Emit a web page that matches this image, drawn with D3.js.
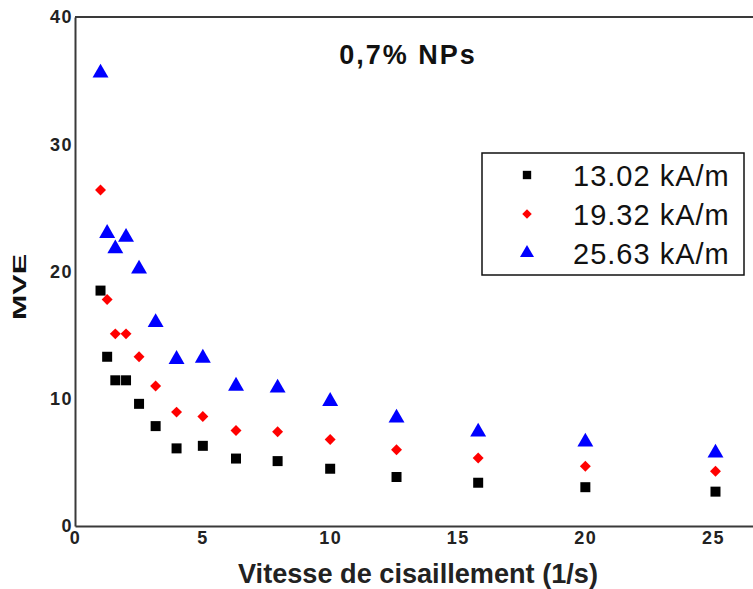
<!DOCTYPE html>
<html>
<head>
<meta charset="utf-8">
<script src="https://cdn.jsdelivr.net/npm/d3@7"></script>
<style>
  body { margin: 0; background: #fff; }
  svg { display: block; font-family: "Liberation Sans", Arial, sans-serif; }
</style>
</head>
<body>
<div id="chart"></div>
<script>
// vitesse de cisaillement (1/s)
const shearRate = [1, 1.26, 1.58, 2, 2.51, 3.16, 3.98, 5.01, 6.31, 7.94, 10, 12.6, 15.8, 20, 25.1]
// MVE pour chaque champ magnétique
const mve13 = [18.5, 13.3, 11.45, 11.45, 9.6, 7.85, 6.1, 6.3, 5.3, 5.1, 4.5, 3.85, 3.4, 3.05, 2.7]
const mve19 = [26.4, 17.8, 15.1, 15.1, 13.3, 11.0, 8.95, 8.6, 7.5, 7.4, 6.8, 6.0, 5.35, 4.7, 4.3]
const mve25 = [35.6, 23.0, 21.8, 22.7, 20.2, 16.0, 13.1, 13.2, 11.0, 10.85, 9.8, 8.5, 7.4, 6.6, 5.75]

const seriesNames = ['13.02 kA/m', '19.32 kA/m', '25.63 kA/m']
const xTicks = [0, 5, 10, 15, 20, 25]
const yTicks = [0, 10, 20, 30, 40]

const width = 753
const height = 589

const svg = d3.select('#chart').append('svg')
  .attr('width', width)
  .attr('height', height)

const x = d3.scaleLinear().domain([0, 26.57]).range([75, 753])
const y = d3.scaleLinear().domain([0, 40]).range([526, 17])

// cadre : ligne du haut
svg.append('line')
  .attr('x1', x(0)).attr('x2', width)
  .attr('y1', y(40)).attr('y2', y(40))
  .attr('stroke', '#3a3a3a').attr('stroke-width', 2)

// axe X
const gx = svg.append('g')
  .attr('transform', `translate(0,${y(0)})`)
  .call(d3.axisBottom(x).tickValues(xTicks).tickSize(0).tickPadding(5).tickFormat(d3.format('d')))
gx.select('.domain').attr('stroke', '#3a3a3a').attr('stroke-width', 2)
gx.selectAll('text')
  .attr('fill', '#222')
  .style('font-size', '18px')
  .style('font-weight', 'bold')
  .style('letter-spacing', '1.5px')

// axe Y
const gy = svg.append('g')
  .attr('transform', `translate(${x(0)},0)`)
  .call(d3.axisLeft(y).tickValues(yTicks).tickSize(0).tickPadding(2).tickFormat(d3.format('d')))
gy.select('.domain').attr('stroke', '#3a3a3a').attr('stroke-width', 2)
gy.selectAll('text')
  .attr('fill', '#222')
  .style('font-size', '18px')
  .style('font-weight', 'bold')
  .style('letter-spacing', '1.5px')

// symboles
const square = d3.symbol().type(d3.symbolSquare).size(100)
const diamond = d3.symbol().type(d3.symbolSquare).size(60)
const triangle = d3.symbol().type(d3.symbolTriangle).size(110)

const series = [
  { name: seriesNames[0], values: mve13, path: square(), rot: 0, color: '#000000' },
  { name: seriesNames[1], values: mve19, path: diamond(), rot: 45, color: '#ff0000' },
  { name: seriesNames[2], values: mve25, path: triangle(), rot: 0, color: '#0000ff' }
]

series.forEach(s => {
  svg.append('g').selectAll('path')
    .data(shearRate.map((r, i) => [r, s.values[i]]))
    .join('path')
    .attr('d', s.path)
    .attr('fill', s.color)
    .attr('transform', d => `translate(${x(d[0])},${y(d[1])}) rotate(${s.rot})`)
})

// titre
svg.append('text')
  .attr('x', 408).attr('y', 64)
  .attr('text-anchor', 'middle')
  .style('font-size', '27px')
  .style('font-weight', 'bold')
  .style('letter-spacing', '2px')
  .attr('fill', '#111')
  .text('0,7% NPs')

// titres des axes
svg.append('text')
  .attr('x', 238).attr('y', 583)
  .attr('textLength', 360)
  .attr('lengthAdjust', 'spacingAndGlyphs')
  .style('font-size', '27px')
  .style('font-weight', 'bold')
  .attr('fill', '#222')
  .text('Vitesse de cisaillement (1/s)')

svg.append('text')
  .attr('transform', 'translate(26,320) rotate(-90)')
  .attr('textLength', 66)
  .attr('lengthAdjust', 'spacingAndGlyphs')
  .style('font-size', '19px')
  .style('font-weight', 'bold')
  .attr('fill', '#111')
  .text('MVE')

// légende
const legend = svg.append('g').attr('transform', 'translate(482,153)')
legend.append('rect')
  .attr('width', 262).attr('height', 122)
  .attr('fill', '#fff')
  .attr('stroke', '#111').attr('stroke-width', 1.5)

const legendSymbols = [
  d3.symbol().type(d3.symbolSquare).size(70)(),
  d3.symbol().type(d3.symbolSquare).size(45)(),
  d3.symbol().type(d3.symbolTriangle).size(85)()
]

const rowY = d3.scalePoint().domain(seriesNames).range([22, 100])
series.forEach((s, i) => {
  const row = legend.append('g').attr('transform', `translate(0,${rowY(s.name)})`)
  row.append('path')
    .attr('d', legendSymbols[i])
    .attr('fill', s.color)
    .attr('transform', `translate(45,0) rotate(${s.rot})`)
  row.append('text')
    .attr('x', 91).attr('y', 11)
    .style('font-size', '29px')
    .style('letter-spacing', '1px')
    .attr('fill', '#111')
    .text(s.name)
})
</script>
</body>
</html>
